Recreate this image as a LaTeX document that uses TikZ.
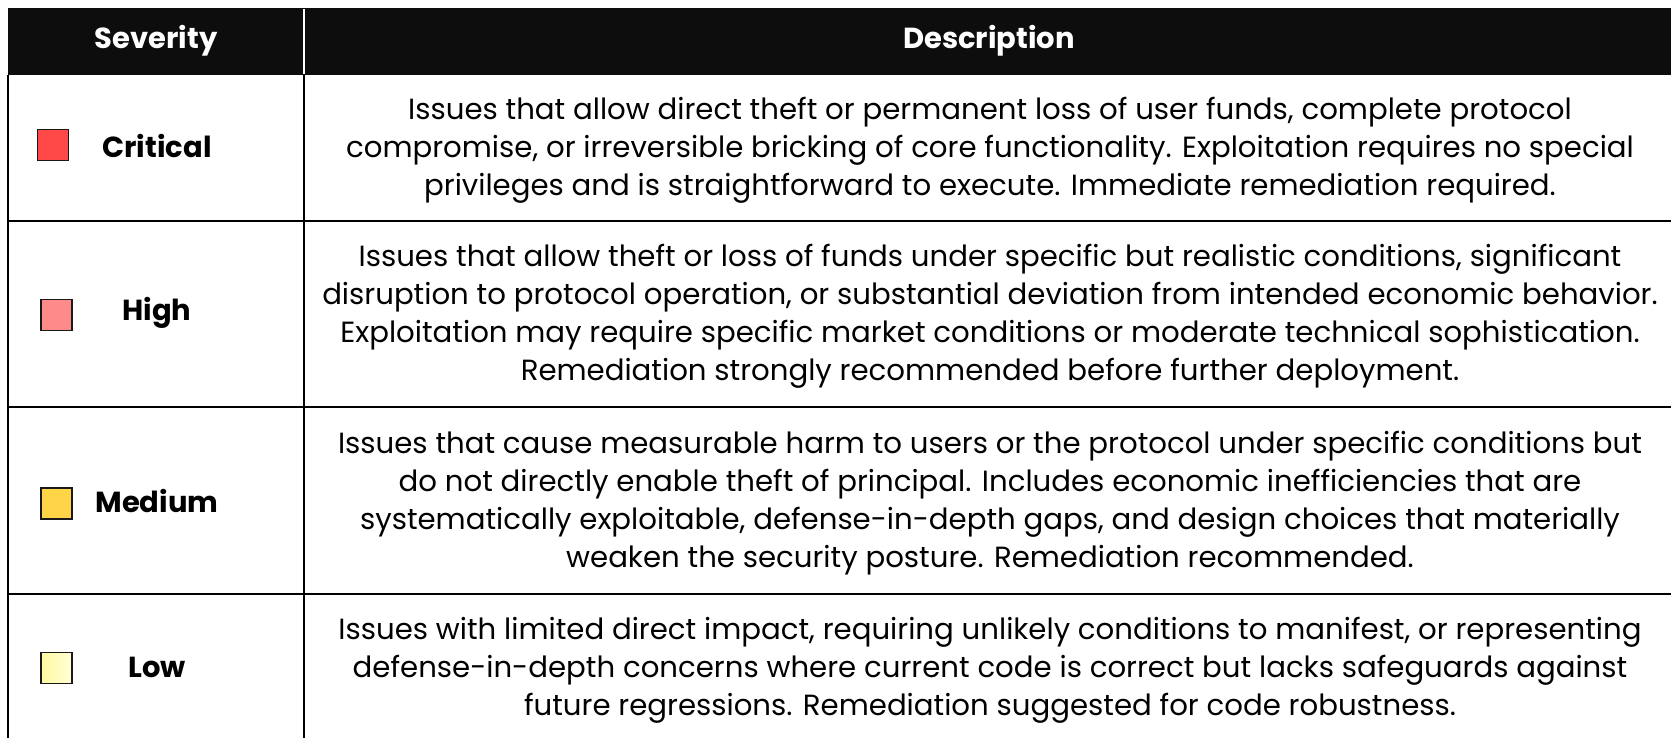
\documentclass[tikz,border=0pt]{standalone}
\usepackage{fontspec}
\setmainfont{Poppins}
\definecolor{headbg}{HTML}{0D0D0D}
\definecolor{critcol}{HTML}{FF4848}
\definecolor{highcol}{HTML}{FF8A8A}
\definecolor{medcol}{HTML}{FFD447}
\definecolor{lowcolA}{HTML}{FFF8A0}
\definecolor{lowcolB}{HTML}{FFFFD8}
\tikzset{
  head/.style={text=white, font=\fontsize{29}{34}\selectfont\bfseries},
  sevlabel/.style={font=\fontsize{29}{34}\selectfont\bfseries},
  desc/.style={align=center, font=\fontsize{29.2}{38}\selectfont},
  swatch/.style={draw=black!90, line width=1.8pt, minimum size=31pt, inner sep=0pt},
  rule/.style={line width=2.4pt}
}
\begin{document}
\begin{tikzpicture}[x=1pt,y=-1pt]
\useasboundingbox (0,0) rectangle (1671,738);

% Header band
\fill[headbg] (8,8) rectangle (1676,75);
\draw[white, line width=2.4pt] (304,9) -- (304,74);
\node[head] (hsev) at (156,41) {Severity};
\node[head] (hdesc) at (989,41) {Description};

% Table rules
\draw[rule] (8,75) -- (8,742);
\draw[rule] (304,75) -- (304,742);
\foreach \y in {221, 407, 594} {
    \draw[rule] (8,\y) -- (1676,\y);
}

% Severity swatches and labels
\node[swatch, fill=critcol] (swcrit) at (53,145) {};
\node[sevlabel] (lcrit) at (157,146) {Critical};
\node[swatch, fill=highcol] (swhigh) at (56.5,315) {};
\node[sevlabel] (lhigh) at (157,313) {High};
\node[swatch, fill=medcol] (swmed) at (56.5,503.5) {};
\node[sevlabel] (lmed) at (157,501) {Medium};
\node[swatch, left color=lowcolA, right color=lowcolB] (swlow) at (56.5,668) {};
\node[sevlabel] (llow) at (157,667) {Low};

% Descriptions
\node[desc] (dcrit) at (990,150) {Issues that allow direct theft or permanent loss of user funds, complete protocol\\
compromise, or irreversible bricking of core functionality. Exploitation requires no special\\
privileges and is straightforward to execute. Immediate remediation required.};
\node[desc] (dhigh) at (990,316) {Issues that allow theft or loss of funds under specific but realistic conditions, significant\\
disruption to protocol operation, or substantial deviation from intended economic behavior.\\
Exploitation may require specific market conditions or moderate technical sophistication.\\
Remediation strongly recommended before further deployment.};
\node[desc] (dmed) at (990,503) {Issues that cause measurable harm to users or the protocol under specific conditions but\\
do not directly enable theft of principal. Includes economic inefficiencies that are\\
systematically exploitable, defense-in-depth gaps, and design choices that materially\\
weaken the security posture. Remediation recommended.};
\node[desc] (dlow) at (990,670) {Issues with limited direct impact, requiring unlikely conditions to manifest, or representing\\
defense-in-depth concerns where current code is correct but lacks safeguards against\\
future regressions. Remediation suggested for code robustness.};
\end{tikzpicture}
\end{document}
